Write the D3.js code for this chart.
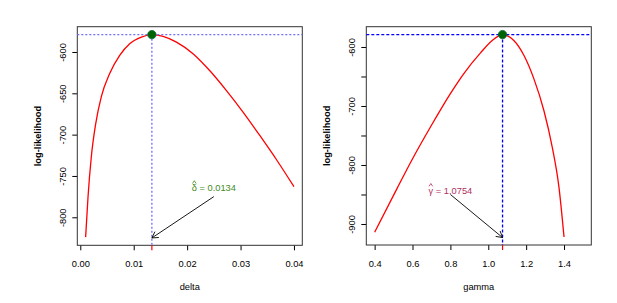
<!DOCTYPE html>
<meta charset="utf-8">
<style>
body { margin: 0; background: #fff; }
svg { font-family: "Liberation Sans", Arial, sans-serif; }
.axis text { font-size: 9.3px; fill: #000; }
.axis line { stroke: #000; }
.lab { font-size: 9.3px; fill: #000; }
</style>
<svg width="617" height="303"></svg>
<script src="https://d3js.org/d3.v7.min.js"></script>
<script>

// profile log-likelihood for delta
var deltaGrid = [0.0010, 0.00144, 0.00206, 0.00288, 0.00394, 0.0055, 0.00738, 0.00925, 0.01144, 0.0134,
                 0.0155, 0.0180, 0.0211, 0.0243, 0.0274, 0.0305, 0.0336, 0.0368, 0.0400];
var deltaLL = [-824, -776, -727, -687, -654, -626, -604, -590, -582, -579,
               -581, -588, -602, -623, -647, -673, -701, -731, -763];

// profile log-likelihood for gamma
var gammaGrid = [0.4, 0.518, 0.606, 0.694, 0.8, 0.871, 0.959, 1.021, 1.0754,
                 1.135, 1.188, 1.241, 1.294, 1.338, 1.373, 1.4];
var gammaLL = [-914, -840, -786, -736, -679, -645, -610, -589, -579,
               -589, -614, -654, -708, -770, -837, -922];

var deltaXTicks = [0, 0.01, 0.02, 0.03, 0.04];
var deltaYTicks = [-600, -650, -700, -750, -800];
var gammaXTicks = [0.4, 0.6, 0.8, 1.0, 1.2, 1.4];
var gammaYTicks = [-600, -650, -700, -750, -800, -850, -900];

var svg = d3.select("svg");

panel({
  left: 77.3, right: 302.3, top: 26.7, bottom: 245.3,
  xs: deltaGrid, ys: deltaLL,
  xdom: [-0.00056, 0.04156], ydom: [-833.9, -569.4],
  xticks: deltaXTicks, yticks: deltaYTicks, xfmt: d3.format(".2f"), yfmt: d => d,
  hat: 0.0134, hatMax: -579, xlab: "delta",
  sym: "δ", est: "0.0134", txtAt: [0.025, -764], arrowFrom: [0.025, -775], arrowTo: -825,
  txtColor: "#3f8c1c", refColor: "#6f6fff", dash: "2,2", vdash: "2,2"
});

panel({
  left: 366.3, right: 591.3, top: 26.7, bottom: 245,
  xs: gammaGrid, ys: gammaLL,
  xdom: [0.356, 1.544], ydom: [-935.6, -565.6],
  xticks: gammaXTicks, yticks: gammaYTicks, xfmt: d3.format(".1f"), yfmt: d => d % 100 === 0 ? d : "",
  hat: 1.0754, hatMax: -579, xlab: "gamma",
  sym: "γ", est: "1.0754", txtAt: [0.8, -843], arrowFrom: [0.8, -850], arrowTo: -923,
  txtColor: "#b03060", refColor: "#0000ff", dash: "3,2", vdash: "3,2"
});

function panel(p) {
  var x = d3.scaleLinear().domain(p.xdom).range([p.left, p.right]);
  var y = d3.scaleLinear().domain(p.ydom).range([p.bottom, p.top]);
  var g = svg.append("g");

  // axes
  var xa = g.append("g").attr("class", "axis")
      .attr("transform", "translate(0," + p.bottom + ")")
      .call(d3.axisBottom(x).tickValues(p.xticks).tickFormat(p.xfmt).tickSize(5).tickPadding(10.5));
  xa.select(".domain").remove();

  var ya = g.append("g").attr("class", "axis")
      .attr("transform", "translate(" + p.left + ",0)")
      .call(d3.axisLeft(y).tickValues(p.yticks).tickFormat(p.yfmt).tickSize(5));
  ya.select(".domain").remove();
  ya.selectAll("text")
      .attr("transform", "rotate(-90)")
      .attr("x", 0).attr("y", -14.8).attr("dy", "0.35em")
      .attr("text-anchor", "middle");

  // labels
  g.append("text").attr("class", "lab")
      .attr("x", (p.left + p.right) / 2).attr("y", 286.7).attr("dy", "0.35em")
      .attr("text-anchor", "middle").text(p.xlab);
  g.append("text").attr("class", "lab")
      .attr("transform", "translate(" + (p.left - 39.8) + "," + ((p.top + p.bottom) / 2) + ") rotate(-90)")
      .attr("dy", "0.35em").attr("text-anchor", "middle")
      .style("font-weight", "bold").text("log-likelihood");

  // box
  g.append("rect")
      .attr("x", p.left).attr("y", p.top)
      .attr("width", p.right - p.left).attr("height", p.bottom - p.top)
      .attr("fill", "none").attr("stroke", "#333").attr("stroke-width", 1);

  // curve
  var pts = p.xs.map((v, i) => [v, p.ys[i]]);
  g.append("path")
      .attr("d", d3.line().x(d => x(d[0])).y(d => y(d[1])).curve(d3.curveMonotoneX)(pts))
      .attr("fill", "none").attr("stroke", "red").attr("stroke-width", 1.3);

  // reference lines
  g.append("line")
      .attr("x1", p.left).attr("x2", p.right).attr("y1", y(p.hatMax)).attr("y2", y(p.hatMax))
      .attr("stroke", p.refColor).attr("stroke-dasharray", p.dash).attr("stroke-width", 1.3);
  g.append("line")
      .attr("x1", x(p.hat)).attr("x2", x(p.hat)).attr("y1", y(p.hatMax)).attr("y2", p.bottom)
      .attr("stroke", p.refColor).attr("stroke-dasharray", p.vdash).attr("stroke-width", 1.3);

  // red tick on axis
  g.append("line")
      .attr("x1", x(p.hat)).attr("x2", x(p.hat)).attr("y1", p.bottom).attr("y2", p.bottom + 5)
      .attr("stroke", "red").attr("stroke-width", 1.2);

  // max point
  g.append("circle")
      .attr("cx", x(p.hat)).attr("cy", y(p.hatMax)).attr("r", 4.2)
      .attr("fill", "#006400").attr("stroke", "#0a6a3a").attr("stroke-width", 0.8);

  // annotation text
  var t = g.append("text").attr("class", "lab")
      .attr("x", x(p.txtAt[0])).attr("y", y(p.txtAt[1])).attr("dy", "0.35em")
      .attr("text-anchor", "middle").style("fill", p.txtColor);
  t.append("tspan").text(p.sym);
  t.append("tspan").text(" = " + p.est);
  var bb = t.node().getBBox();
  var sw = t.node().getSubStringLength(0, 1);
  // hat accent drawn as a small caret
  var hx = bb.x + sw / 2, hy = bb.y - 0.5;
  g.append("path")
      .attr("d", "M" + (hx - 1.8) + "," + (hy + 1.2) + "L" + hx + "," + (hy - 1.6) + "L" + (hx + 1.8) + "," + (hy + 1.2))
      .attr("fill", "none").attr("stroke", p.txtColor).attr("stroke-width", 0.8);

  // arrow
  var x0 = x(p.arrowFrom[0]), y0 = y(p.arrowFrom[1]), x1 = x(p.hat), y1 = y(p.arrowTo);
  var ang = Math.atan2(y1 - y0, x1 - x0), L = 7, a = Math.PI / 6;
  g.append("path")
      .attr("d", "M" + x0 + "," + y0 + "L" + x1 + "," + y1 +
        "M" + (x1 - L * Math.cos(ang - a)) + "," + (y1 - L * Math.sin(ang - a)) +
        "L" + x1 + "," + y1 +
        "L" + (x1 - L * Math.cos(ang + a)) + "," + (y1 - L * Math.sin(ang + a)))
      .attr("fill", "none").attr("stroke", "#000").attr("stroke-width", 0.9);
}

</script>
